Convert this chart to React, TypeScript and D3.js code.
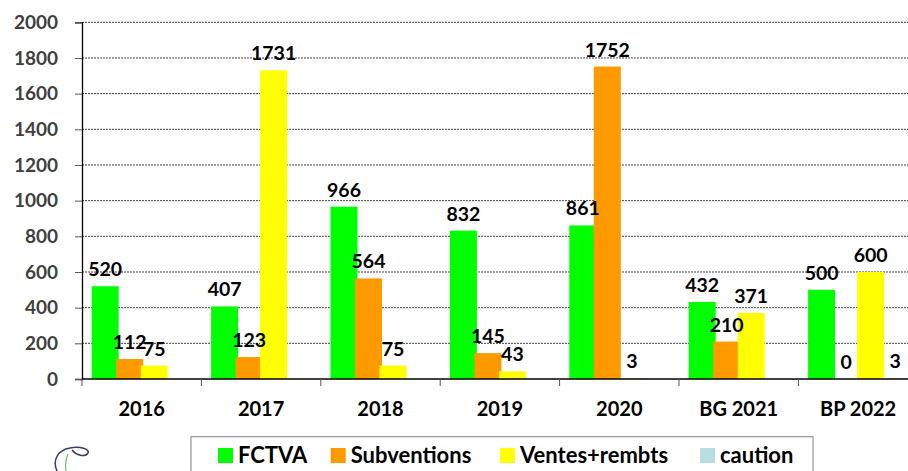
import React, { useEffect, useRef } from "react";
import * as d3 from "d3";

const categories = ["2016", "2017", "2018", "2019", "2020", "BG 2021", "BP 2022"];
const seriesNames = ["FCTVA", "Subventions", "Ventes+rembts", "caution"];
const fctva = [520, 407, 966, 832, 861, 432, 500];
const subventions = [112, 123, 564, 145, 1752, 210, 0];
const ventes = [75, 1731, 75, 43, 3, 371, 600];
const caution = [null, null, null, null, null, null, 3];
const yTicks = [0, 200, 400, 600, 800, 1000, 1200, 1400, 1600, 1800, 2000];

const colors = ["#00FF00", "#FF9900", "#FFFF00", "#B7DEE1"];
const font = "Lato, 'DejaVu Sans', sans-serif";

export default function App() {
  const ref = useRef<SVGSVGElement>(null);

  useEffect(() => {
    const W = 908, H = 471;
    const left = 82, bottom = 379, top = 22.3;
    const step = 119.4;
    const svg = d3.select(ref.current).html(null)
      .attr("width", W).attr("height", H);

    const x = d3.scaleBand().domain(categories)
      .range([left, left + step * categories.length]).padding(0);
    const xs = d3.scaleBand().domain(seriesNames).range([9.7, 9.7 + 4 * 24.5]).padding(0);
    const barW = 27;
    const y = d3.scaleLinear().domain([0, 2000]).range([bottom, top]);

    // gridlines
    svg.append("g").selectAll("line").data(yTicks.filter(t => t > 0)).enter()
      .append("line")
      .attr("x1", left).attr("x2", W)
      .attr("y1", d => y(d)).attr("y2", d => y(d))
      .attr("stroke", "#444").attr("stroke-width", 1)
      .attr("stroke-dasharray", "2,1");

    // y axis
    const yAxis = svg.append("g").attr("transform", `translate(${left},0)`)
      .call(d3.axisLeft(y).tickValues(yTicks).tickSize(7).tickPadding(17).tickFormat(d3.format("d")));
    yAxis.select(".domain").attr("stroke", "#000").attr("stroke-width", 1.3);
    yAxis.selectAll(".tick line").attr("stroke", "#555");
    yAxis.selectAll("text").attr("font-family", font).attr("font-weight", "bold")
      .attr("font-size", 19).attr("fill", "#404040");

    const allSeries = [fctva, subventions, ventes, caution];
    allSeries.forEach((vals, si) => {
      const g = svg.append("g");
      const data = vals.map((v, i) => ({ v, c: categories[i] })).filter(d => d.v !== null);
      g.selectAll("rect").data(data).enter().append("rect")
        .attr("x", d => (x(d.c) as number) + (xs(seriesNames[si]) as number))
        .attr("width", barW)
        .attr("y", d => y(d.v as number))
        .attr("height", d => bottom - y(d.v as number))
        .attr("fill", colors[si]);
    });

    // x axis
    svg.append("line").attr("x1", left).attr("x2", W).attr("y1", bottom).attr("y2", bottom)
      .attr("stroke", "#000").attr("stroke-width", 1.3);
    svg.append("g").selectAll("line").data(categories).enter().append("line")
      .attr("x1", d => x(d) as number).attr("x2", d => x(d) as number)
      .attr("y1", bottom).attr("y2", bottom + 7).attr("stroke", "#555");
    svg.append("g").selectAll("text").data(categories).enter().append("text")
      .attr("x", d => (x(d) as number) + step / 2)
      .attr("y", 416)
      .attr("text-anchor", "middle")
      .attr("font-family", font).attr("font-weight", "bold").attr("font-size", 20)
      .attr("fill", "#000")
      .text(d => d);

    // data labels
    allSeries.forEach((vals, si) => {
      const data = vals.map((v, i) => ({ v, c: categories[i] })).filter(d => d.v !== null);
      svg.append("g").selectAll("text").data(data).enter().append("text")
        .attr("x", d => (x(d.c) as number) + (xs(seriesNames[si]) as number) + barW / 2)
        .attr("y", d => y(d.v as number) - 10)
        .attr("text-anchor", "middle")
        .attr("font-family", font).attr("font-weight", "bold").attr("font-size", 19.5)
        .attr("fill", "#000")
        .text(d => String(d.v));
    });

    // legend
    svg.append("rect").attr("x", 191).attr("y", 436.7).attr("width", 622).attr("height", 50)
      .attr("fill", "#fff").attr("stroke", "#808080").attr("stroke-width", 1);
    const legendX = [218, 330.7, 500, 700];
    const lg = svg.append("g").selectAll("g").data(seriesNames).enter().append("g")
      .attr("transform", (d, i) => `translate(${legendX[i]},448)`);
    lg.append("rect").attr("width", 15).attr("height", 15).attr("fill", (d, i) => colors[i]);
    lg.append("text").attr("x", 20).attr("y", 15)
      .attr("font-family", font).attr("font-weight", "bold").attr("font-size", 22)
      .attr("fill", "#000").text(d => d);

    // small logo swirl
    svg.append("path")
      .attr("d", "M57,471 C52,460 58,450 70,448 C80,446 90,449 88,453 C85,458 76,455 72,450")
      .attr("fill", "none").attr("stroke", "#3a3d6b").attr("stroke-width", 1.5);
    svg.append("path")
      .attr("d", "M66,471 C65,464 66,458 68,454")
      .attr("fill", "none").attr("stroke", "#6cbf6c").attr("stroke-width", 1.2);
  });

  return <svg ref={ref} style={{ position: "absolute", left: 0, top: 0 }}></svg>;
}
